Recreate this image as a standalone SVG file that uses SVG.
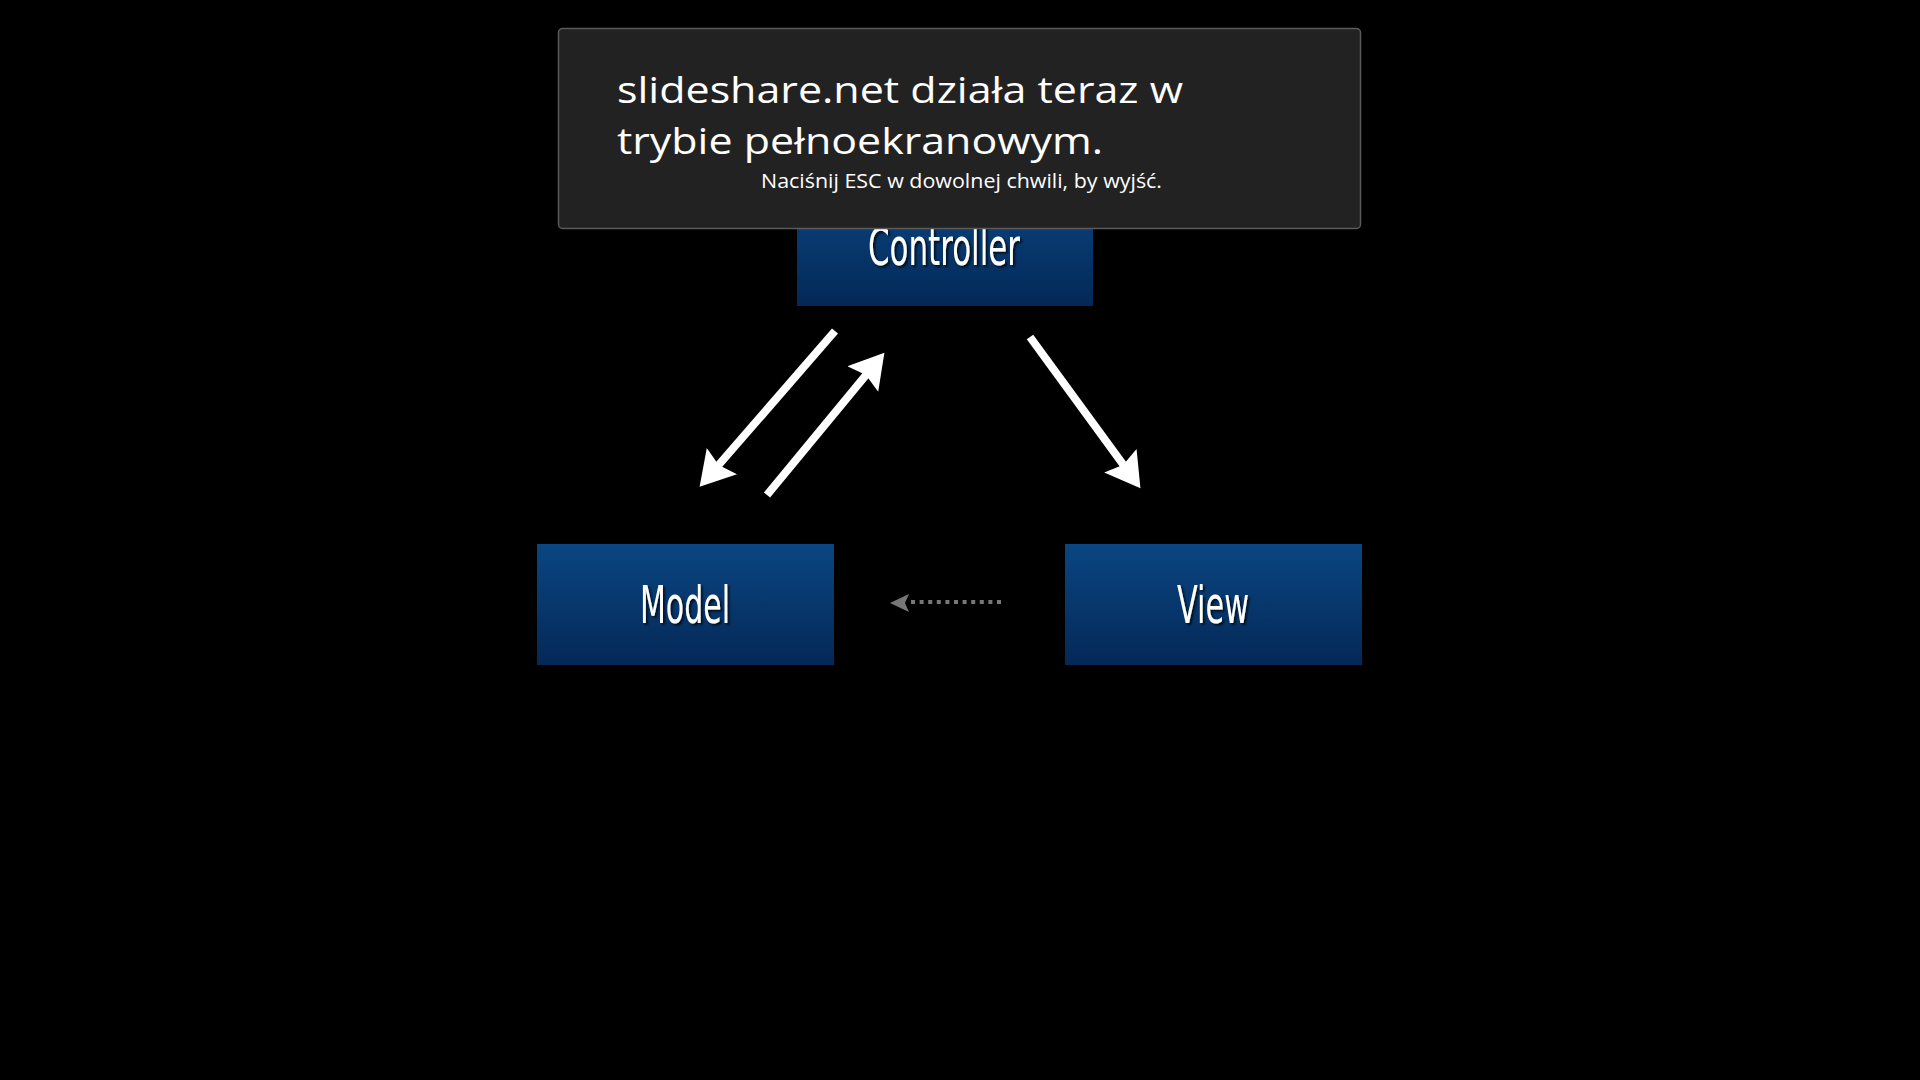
<svg xmlns="http://www.w3.org/2000/svg" width="1920" height="1080" viewBox="0 0 1920 1080">
  <defs>
    <linearGradient id="boxGrad" x1="0" y1="0" x2="0" y2="1">
      <stop offset="0" stop-color="#0a4682"/>
      <stop offset="1" stop-color="#042857"/>
    </linearGradient>
    <filter id="shadow" x="-10%" y="-10%" width="130%" height="140%">
      <feDropShadow dx="2" dy="2" stdDeviation="1.2" flood-color="#000" flood-opacity="0.7"/>
    </filter>
    <marker id="headWhite" markerUnits="userSpaceOnUse" markerWidth="36" markerHeight="44" viewBox="0 0 36 44" refX="9" refY="22" orient="auto">
      <path d="M0,2 L34,22 L0,42 L5,22 Z" fill="#ffffff"/>
    </marker>
  </defs>
  <style>
    .box { fill: url(#boxGrad); }
    .label { font-family: "Liberation Sans Narrow", "DejaVu Sans Condensed", "Liberation Sans", sans-serif; font-size: 51px; fill: #ffffff; text-anchor: middle; filter: url(#shadow); }
    .arrow { stroke: #ffffff; stroke-width: 8; fill: none; marker-end: url(#headWhite); }
    .dash { stroke: #777777; stroke-width: 4; stroke-dasharray: 4 4.6; fill: none; }
    .overlay { fill: #222222; stroke: #5a5a5a; stroke-width: 1.5; }
    .title { font-family: "Open Sans", "Noto Sans", "DejaVu Sans", sans-serif; font-size: 37px; fill: #ffffff; }
    .sub { font-family: "Open Sans", "Noto Sans", "DejaVu Sans", sans-serif; font-size: 20px; fill: #ffffff; }
  </style>
  <rect x="0" y="0" width="1920" height="1080" fill="#000000"/>

  <g id="controller">
    <rect class="box" x="797" y="184" width="296" height="122"/>
    <text class="label" x="944" y="265" textLength="152" lengthAdjust="spacingAndGlyphs">Controller</text>
  </g>
  <g id="model">
    <rect class="box" x="537" y="544" width="297" height="121"/>
    <text class="label" x="685" y="623" textLength="90" lengthAdjust="spacingAndGlyphs">Model</text>
  </g>
  <g id="view">
    <rect class="box" x="1065" y="544" width="297" height="121"/>
    <text class="label" x="1213" y="623" textLength="72" lengthAdjust="spacingAndGlyphs">View</text>
  </g>

  <g id="connectors">
    <line class="arrow" x1="835" y1="331" x2="716" y2="468"/>
    <line class="arrow" x1="767" y1="495" x2="868.5" y2="372"/>
    <line class="arrow" x1="1030" y1="337" x2="1125.7" y2="468"/>
    <line class="dash" x1="1001" y1="602" x2="911" y2="602"/>
    <path d="M890,603 L909,594 L905,603 L909,612 Z" fill="#777777"/>
  </g>

  <g id="fullscreen-notice">
    <rect class="overlay" x="558.5" y="28.5" width="802" height="200" rx="4" ry="4"/>
    <text class="title" x="617" y="103" textLength="566" lengthAdjust="spacingAndGlyphs">slideshare.net działa teraz w</text>
    <text class="title" x="617" y="154" textLength="486" lengthAdjust="spacingAndGlyphs">trybie pełnoekranowym.</text>
    <text class="sub" x="761" y="188" textLength="401" lengthAdjust="spacingAndGlyphs">Naciśnij ESC w dowolnej chwili, by wyjść.</text>
  </g>
</svg>
